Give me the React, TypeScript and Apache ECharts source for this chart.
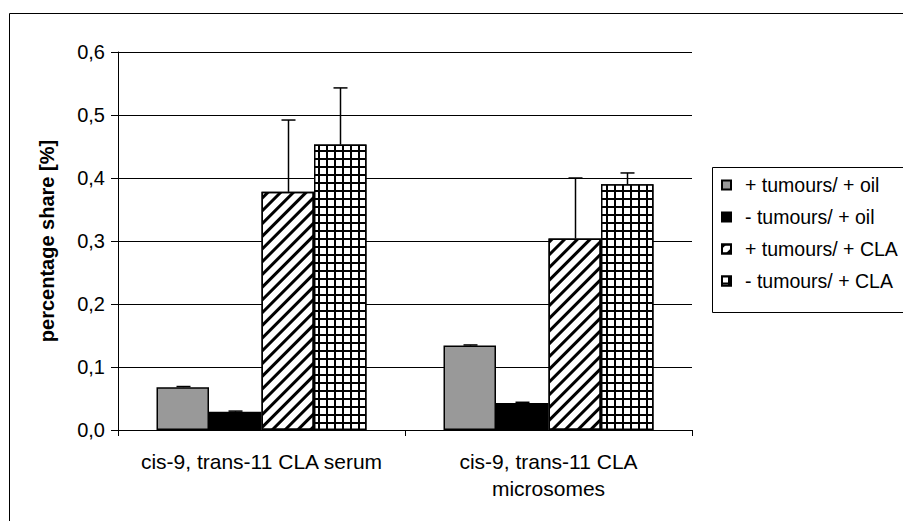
import React, { useEffect, useRef } from "react";
import * as echarts from "echarts";

const categories = ["cis-9, trans-11 CLA serum", "cis-9, trans-11 CLA\nmicrosomes"];
const seriesNames = ["+ tumours/ + oil", "- tumours/ + oil", "+ tumours/ + CLA", "- tumours/ + CLA"];
const plusOil = [0.068, 0.134];
const minusOil = [0.029, 0.043];
const plusCLA = [0.378, 0.304];
const minusCLA = [0.453, 0.39];
const errPlusOil = [0.001, 0.001];
const errMinusOil = [0.001, 0.001];
const errPlusCLA = [0.114, 0.096];
const errMinusCLA = [0.09, 0.018];
const yTicks = ["0,0", "0,1", "0,2", "0,3", "0,4", "0,5", "0,6"];

const FONT = "Liberation Sans, Arial, sans-serif";
const BAR_W = 52.5;

export default function App() {
  const ref = useRef<HTMLDivElement>(null);
  useEffect(() => {
    if (!ref.current) return;
    const chart = echarts.init(ref.current, null, { renderer: "svg" });
    const values = [plusOil, minusOil, plusCLA, minusCLA];
    const errs = [errPlusOil, errMinusOil, errPlusCLA, errMinusCLA];
    const errData: any[] = [];
    values.forEach((vals, s) => {
      vals.forEach((v, c) => errData.push([c, v, v + errs[s][c], s]));
    });
    const styles: any[] = [
      { color: "#999999", borderColor: "#000", borderWidth: 1.5 },
      { color: "#000000", borderColor: "#000", borderWidth: 1.5 },
      {
        color: "#ffffff",
        borderColor: "#000",
        borderWidth: 1.5,
        decal: {
          symbol: "rect",
          symbolSize: 1,
          color: "#000",
          dashArrayX: [1, 0],
          dashArrayY: [3, 5.5],
          rotation: -Math.PI / 4,
        },
      },
      {
        color: "#000000",
        borderColor: "#000",
        borderWidth: 1.5,
        decal: {
          symbol: "rect",
          symbolSize: 1,
          color: "#ffffff",
          dashArrayX: [5.6, 1.8],
          dashArrayY: [5.6, 1.8],
          rotation: 0,
        },
      },
    ];
    const option: any = {
      animation: false,
      textStyle: { fontFamily: FONT },
      grid: { left: 118, top: 52, width: 574, height: 378, containLabel: false },
      legend: {
        orient: "vertical",
        left: 716,
        top: 170,
        itemWidth: 9,
        itemHeight: 9,
        itemGap: 12,
        icon: "rect",
        textStyle: { fontFamily: FONT, fontSize: 19.5, color: "#000", padding: [0, 0, 0, 9] },
        data: seriesNames,
      },
      graphic: [
        {
          type: "rect",
          shape: { x: 9.5, y: 13.5, width: 1000, height: 1000 },
          style: { fill: "none", stroke: "#000", lineWidth: 1 },
          silent: true,
        },
        {
          type: "rect",
          shape: { x: 712.5, y: 167.5, width: 300, height: 145 },
          style: { fill: "none", stroke: "#000", lineWidth: 1 },
          silent: true,
        },
      ],
      xAxis: {
        type: "category",
        data: categories,
        axisLine: { lineStyle: { color: "#000", width: 1 } },
        axisTick: { show: true, length: 6, lineStyle: { color: "#000" } },
        axisLabel: { color: "#000", fontSize: 21, fontFamily: FONT, margin: 18, lineHeight: 27, interval: 0 },
      },
      yAxis: {
        type: "value",
        min: 0,
        max: 0.6,
        interval: 0.1,
        name: "percentage share [%]",
        nameLocation: "middle",
        nameGap: 61,
        nameTextStyle: { fontSize: 20, fontWeight: "bold", fontFamily: FONT, color: "#000" },
        axisLine: { show: true, lineStyle: { color: "#000", width: 1 } },
        axisTick: { show: true, length: 7, lineStyle: { color: "#000" } },
        axisLabel: {
          color: "#000",
          fontSize: 20,
          fontFamily: FONT,
          margin: 13,
          formatter: (v: number) => yTicks[Math.round(v * 10)],
        },
        splitLine: { show: true, lineStyle: { color: "#000", width: 1 } },
      },
      series: [
        ...seriesNames.map((name, i) => ({
          type: "bar",
          name,
          data: values[i],
          barWidth: BAR_W,
          barGap: "0%",
          itemStyle: styles[i],
          z: 2,
        })),
        {
          type: "custom",
          z: 3,
          silent: true,
          data: errData,
          renderItem: (params: any, api: any) => {
            const c = api.value(0);
            const s = api.value(3);
            const p0 = api.coord([c, api.value(1)]);
            const p1 = api.coord([c, api.value(2)]);
            const x = Math.round(p0[0] + (s - 1.5) * BAR_W) + 0.5;
            const cap = 7;
            return {
              type: "group",
              children: [
                { type: "line", shape: { x1: x, y1: p0[1], x2: x, y2: p1[1] }, style: { stroke: "#000", lineWidth: 1.5 } },
                { type: "line", shape: { x1: x - cap, y1: p1[1], x2: x + cap, y2: p1[1] }, style: { stroke: "#000", lineWidth: 1.5 } },
              ],
            };
          },
        },
      ],
    };
    chart.setOption(option);
    return () => chart.dispose();
  }, []);
  return <div ref={ref} style={{ position: "absolute", left: 0, top: 0, width: 903, height: 521, background: "#fff" }} />;
}
